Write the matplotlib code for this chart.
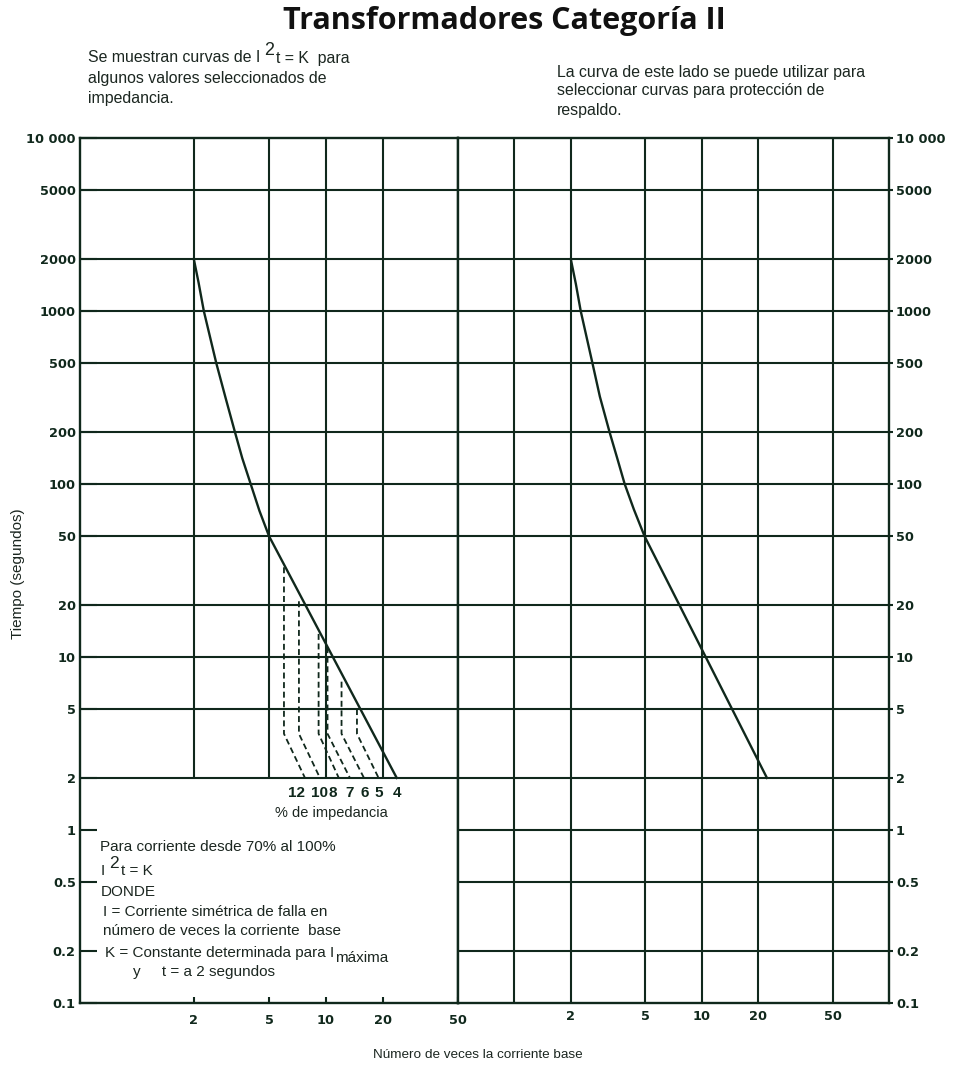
import matplotlib
matplotlib.use('Agg')  # no display
import matplotlib.pyplot as plt
from matplotlib.ticker import FixedLocator, FixedFormatter, NullLocator

# ── data ──────────────────────────────────────────────────────
time_ticks = [0.1, 0.2, 0.5, 1, 2, 5, 10, 20, 50, 100, 200, 500, 1000, 2000, 5000, 10000]
time_labels = ['0.1', '0.2', '0.5', '1', '2', '5', '10', '20', '50', '100',
               '200', '500', '1000', '2000', '5000', '10 000']
current_ticks = [2, 5, 10, 20, 50]
current_labels = ['2', '5', '10', '20', '50']
left_grid_x = [2, 5, 10, 20]
right_grid_x = [1, 2, 5, 10, 20, 50]

# curve on the left panel (with impedance family)
left_I = [2.0, 2.12, 2.26, 2.63, 2.95, 3.30, 3.61, 4.0, 4.45, 5.0, 23.7]
left_t = [2000, 1460, 1000, 500, 313, 200, 141, 100, 70, 50, 2]

# backup-protection curve on the right panel
right_I = [2.0, 2.13, 2.26, 2.61, 2.86, 3.22, 3.54, 3.88, 4.34, 4.95, 22.3]
right_t = [2000, 1430, 1000, 500, 320, 200, 141, 100, 71.5, 50, 2]

# dashed I^2 t = K curves, one per impedance
impedance = ['12', '10', '8', '7', '6', '5', '4']
dash_I_top = [6.0, 7.2, 9.15, 10.2, 12.1, 14.6]
dash_t_top = [33, 21, 13.6, 11.4, 7.2, 5.0]
dash_t_knee = 3.6
dash_I_end = [7.75, 9.3, 11.7, 13.4, 15.9, 19.0]
label_I = [7.0, 9.3, 10.9, 13.4, 16.1, 19.1, 23.8]

INK = '#10281c'
TEXT = '#1b2620'
W, H = 956, 1070
TXT_FONT = ['Liberation Sans', 'DejaVu Sans']
NUM_FONT = ['DejaVu Sans']

plt.rcParams['font.family'] = TXT_FONT

fig = plt.figure(figsize=(W / 100, H / 100), dpi=100)


def px_box(x0, x1, y0, y1):
    return [x0 / W, 1 - y1 / H, (x1 - x0) / W, (y1 - y0) / H]


def fig_xy(x, y):
    return x / W, 1 - y / H


axL = fig.add_axes(px_box(80, 458, 138, 1003))
axR = fig.add_axes(px_box(458, 889, 138, 1003))

for ax in (axL, axR):
    ax.set_xscale('log')
    ax.set_yscale('log')
    ax.set_ylim(0.1, 10000)
    ax.xaxis.set_minor_locator(NullLocator())
    ax.yaxis.set_minor_locator(NullLocator())
    ax.yaxis.set_major_locator(FixedLocator(time_ticks))
    ax.yaxis.set_major_formatter(FixedFormatter(time_labels))
    ax.xaxis.set_major_locator(FixedLocator(current_ticks))
    ax.xaxis.set_major_formatter(FixedFormatter(current_labels))
    for s in ax.spines.values():
        s.set_linewidth(1.7)
        s.set_color(INK)

axL.set_xlim(0.5, 50)
axR.set_xlim(0.5, 100)

grid_kw = dict(color=INK, lw=1.5, zorder=1)

# left panel: grid only above t = 2 s, lower part is a text box
upper_t = [t for t in time_ticks if 2 <= t < 10000]
axL.hlines(upper_t, 0.5, 50, **grid_kw)
axL.vlines(left_grid_x, 2, 10000, **grid_kw)
axL.tick_params(axis='y', direction='in', length=12, width=1.5, color=INK, pad=3)
axL.tick_params(axis='x', direction='in', length=4, width=1.5, color=INK, pad=8)

# right panel: full grid
axR.hlines(time_ticks[1:-1], 0.5, 100, **grid_kw)
axR.vlines(right_grid_x, 0.1, 10000, **grid_kw)
axR.yaxis.tick_right()
axR.tick_params(axis='y', direction='out', length=3, width=1.5, color=INK, pad=2)
axR.tick_params(axis='x', length=0, pad=5)

# tick label style, both label sides
for ax in (axL, axR):
    for tick in ax.xaxis.get_major_ticks() + ax.yaxis.get_major_ticks():
        for lab in (tick.label1, tick.label2):
            lab.set_family(NUM_FONT)
            lab.set_fontweight('bold')
            lab.set_fontsize(9.3)
            lab.set_color(INK)

# curves
axL.plot(left_I, left_t, color=INK, lw=1.7, zorder=3)
axR.plot(right_I, right_t, color=INK, lw=1.7, zorder=3)

for i_top, t_top, i_end in zip(dash_I_top, dash_t_top, dash_I_end):
    axL.plot([i_top, i_top, i_end], [t_top, dash_t_knee, 2], color=INK, lw=1.3,
             dashes=(3.3, 2.0), zorder=2)

for lab, x in zip(impedance, label_I):
    axL.text(x, 1.64, lab, ha='center', va='center', fontsize=11,
             fontweight='bold', color=INK)
axL.text(10.7, 1.26, '% de impedancia', ha='center', va='center', fontsize=10.5,
         color=TEXT)


def sup_line(x, y, before, after, size):
    # text with a raised "2" as in the reference
    t1 = fig.text(*fig_xy(x, y), before, fontsize=size, va='center', color=TEXT)
    t2 = axL.annotate('2', xy=(1, 1), xycoords=t1, xytext=(2.5, 0),
                      textcoords='offset points', fontsize=size + 1.5, va='center',
                      ha='left', color=TEXT, annotation_clip=False)
    axL.annotate(after, xy=(1, 0), xycoords=(t2, t1), xytext=(2, 0),
                 textcoords='offset points', fontsize=size, va='bottom',
                 ha='left', color=TEXT, annotation_clip=False)


# title and notes
fig.text(*fig_xy(504, 21), 'Transformadores Categoría II', ha='center', va='center',
         fontsize=22, fontweight='bold', family=['Open Sans', 'DejaVu Sans'], color='#111')

top_fs = 11.4
sup_line(88, 58, 'Se muestran curvas de I', 't = K  para', top_fs)
fig.text(*fig_xy(88, 78), 'algunos valores seleccionados de', fontsize=top_fs,
         va='center', color=TEXT)
fig.text(*fig_xy(88, 98), 'impedancia.', fontsize=top_fs, va='center', color=TEXT)

fig.text(*fig_xy(557, 72), 'La curva de este lado se puede utilizar para',
         fontsize=top_fs, va='center', color=TEXT)
fig.text(*fig_xy(557, 91), 'seleccionar curvas para protección de',
         fontsize=top_fs, va='center', color=TEXT)
fig.text(*fig_xy(557, 110), 'respaldo.', fontsize=top_fs, va='center', color=TEXT)

# text box in lower left
fs = 11
fig.text(*fig_xy(100, 847), 'Para corriente desde 70% al 100%', fontsize=fs,
         va='center', color=TEXT)
sup_line(101, 871, 'I', 't = K', fs)
fig.text(*fig_xy(101, 892), 'DONDE', fontsize=fs, va='center', color=TEXT)
fig.text(*fig_xy(103, 912), 'I = Corriente simétrica de falla en', fontsize=fs,
         va='center', color=TEXT)
fig.text(*fig_xy(103, 931), 'número de veces la corriente  base', fontsize=fs,
         va='center', color=TEXT)
tk = fig.text(*fig_xy(105, 953), 'K = Constante determinada para I', fontsize=fs,
              va='center', color=TEXT)
axL.annotate('máxima', xy=(1, 0), xycoords=tk, xytext=(0.5, -3.5),
             textcoords='offset points', fontsize=fs, va='bottom', ha='left',
             color=TEXT, annotation_clip=False)
fig.text(*fig_xy(133, 972), 'y     t = a 2 segundos', fontsize=fs, va='center',
         color=TEXT)

# axis titles
fig.text(*fig_xy(18, 574), 'Tiempo (segundos)', rotation=90, ha='center',
         va='center', fontsize=11, color=TEXT)
fig.text(*fig_xy(478, 1055), 'Número de veces la corriente base', ha='center',
         va='center', fontsize=9.7, color=TEXT)

fig.savefig('out.png', dpi=100)
